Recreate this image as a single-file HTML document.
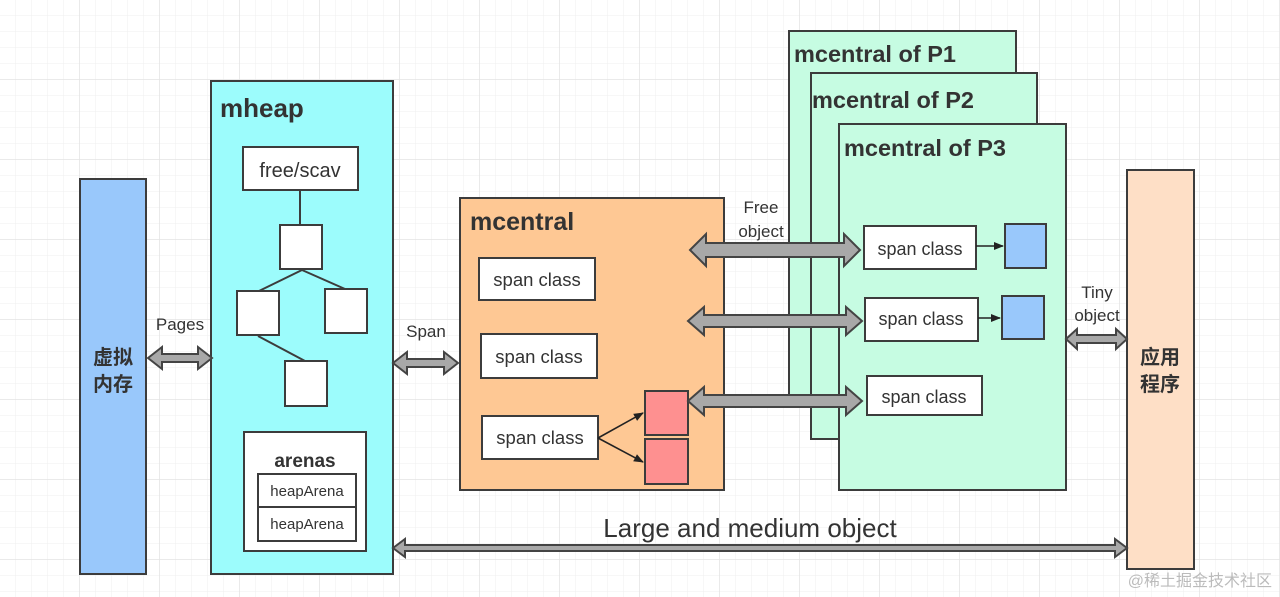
<!DOCTYPE html>
<html><head><meta charset="utf-8"><style>
html,body{margin:0;padding:0;background:#fff;}
svg{display:block;}
text{font-family:"Liberation Sans","Noto Sans CJK SC",sans-serif;fill:#333;}
.b{font-weight:bold;}
</style></head><body>
<svg width="1280" height="597" viewBox="0 0 1280 597" xmlns="http://www.w3.org/2000/svg">
<defs>
<pattern id="g" width="16" height="16" patternUnits="userSpaceOnUse">
<path d="M16 0V16M0 16H16" stroke="#efefef" stroke-width="1" fill="none"/>
</pattern>
<pattern id="G" width="80" height="80" patternUnits="userSpaceOnUse">
<path d="M80 0V80M0 80H80" stroke="#e3e3e3" stroke-width="1.5" fill="none"/>
</pattern>
<marker id="ah" markerWidth="10" markerHeight="10" refX="9" refY="5" orient="auto" markerUnits="userSpaceOnUse">
<path d="M0,1 L10,5 L0,9 z" fill="#222"/>
</marker>
</defs>
<rect width="1280" height="597" fill="url(#g)"/>
<rect width="1280" height="597" fill="url(#G)"/>

<g stroke="#3c3c3c" stroke-width="2">
<rect x="80" y="179" width="66" height="395" fill="#99c8fb"/>
<rect x="211" y="81" width="182" height="493" fill="#9cfcfc"/>
<rect x="243" y="147" width="115" height="43" fill="#fff"/>
<line x1="300" y1="190" x2="300" y2="225"/>
<line x1="302" y1="270" x2="259" y2="291"/>
<line x1="302" y1="270" x2="345" y2="289"/>
<line x1="258" y1="336" x2="305" y2="361"/>
<rect x="280" y="225" width="42" height="44" fill="#fff"/>
<rect x="237" y="291" width="42" height="44" fill="#fff"/>
<rect x="325" y="289" width="42" height="44" fill="#fff"/>
<rect x="285" y="361" width="42" height="45" fill="#fff"/>
<rect x="244" y="432" width="122" height="119" fill="#fff"/>
<rect x="258" y="474" width="98" height="33" fill="#fff"/>
<rect x="258" y="507" width="98" height="34" fill="#fff"/>
<rect x="460" y="198" width="264" height="292" fill="#fec894"/>
<rect x="479" y="258" width="116" height="42" fill="#fff"/>
<rect x="481" y="334" width="116" height="44" fill="#fff"/>
<rect x="482" y="416" width="116" height="43" fill="#fff"/>
<rect x="645" y="391" width="43" height="44" fill="#fe9090"/>
<rect x="645" y="439" width="43" height="45" fill="#fe9090"/>
<rect x="789" y="31" width="227" height="364" fill="#c6fce2"/>
<rect x="811" y="73" width="226" height="366" fill="#c6fce2"/>
<rect x="839" y="124" width="227" height="366" fill="#c6fce2"/>
<rect x="864" y="226" width="112" height="43" fill="#fff"/>
<rect x="865" y="298" width="113" height="43" fill="#fff"/>
<rect x="867" y="376" width="115" height="39" fill="#fff"/>
<rect x="1005" y="224" width="41" height="44" fill="#99c8fb"/>
<rect x="1002" y="296" width="42" height="43" fill="#99c8fb"/>
<rect x="1127" y="170" width="67" height="399" fill="#fedfc6"/>
</g>
<g stroke="#222" stroke-width="1.6">
<line x1="598" y1="438" x2="643" y2="413" marker-end="url(#ah)"/>
<line x1="598" y1="438" x2="643" y2="462" marker-end="url(#ah)"/>
<line x1="976" y1="246" x2="1003" y2="246" marker-end="url(#ah)"/>
<line x1="978" y1="318" x2="1000" y2="318" marker-end="url(#ah)"/>
</g>

<g fill="#a8a8a8" stroke="#444" stroke-width="2" stroke-linejoin="miter">
<polygon points="148,358 162,347 162,354 198,354 198,347 212,358 198,369 198,362 162,362 162,369"/>
<polygon points="393,363 407,352 407,359 444,359 444,352 458,363 444,374 444,367 407,367 407,374"/>
<polygon points="690,250 706,234 706,243 844,243 844,234 860,250 844,266 844,257 706,257 706,266"/>
<polygon points="688,321 704,307 704,315 846,315 846,307 862,321 846,335 846,327 704,327 704,335"/>
<polygon points="688,401 704,387 704,395 846,395 846,387 862,401 846,415 846,407 704,407 704,415"/>
<polygon points="1066,339 1077,329 1077,335 1116,335 1116,329 1127,339 1116,349 1116,343 1077,343 1077,349"/>
<polygon points="393,548 405,539 405,545 1115,545 1115,539 1127,548 1115,557 1115,551 405,551 405,557"/>
</g>

<text x="113" y="364" font-size="20" class="b" text-anchor="middle">虚拟</text>
<text x="113" y="391" font-size="20" class="b" text-anchor="middle">内存</text>
<text x="220" y="117" font-size="26" class="b">mheap</text>
<text x="300" y="177" font-size="20" text-anchor="middle">free/scav</text>
<text x="305" y="467" font-size="19" class="b" text-anchor="middle">arenas</text>
<text x="307" y="496" font-size="15" text-anchor="middle" fill="#444">heapArena</text>
<text x="307" y="529" font-size="15" text-anchor="middle" fill="#444">heapArena</text>
<text x="180" y="330" font-size="17" text-anchor="middle">Pages</text>
<text x="426" y="337" font-size="17" text-anchor="middle">Span</text>
<text x="470" y="230" font-size="25" class="b">mcentral</text>
<text x="537" y="286" font-size="18.5" text-anchor="middle">span class</text>
<text x="539" y="363" font-size="18.5" text-anchor="middle">span class</text>
<text x="540" y="444" font-size="18.5" text-anchor="middle">span class</text>
<text x="761" y="213" font-size="17" text-anchor="middle">Free</text>
<text x="761" y="237" font-size="17" text-anchor="middle">object</text>
<text x="794" y="62" font-size="23.5" class="b">mcentral of P1</text>
<text x="812" y="108" font-size="23.5" class="b">mcentral of P2</text>
<text x="844" y="156" font-size="23.5" class="b">mcentral of P3</text>
<text x="920" y="255" font-size="18" text-anchor="middle">span class</text>
<text x="921" y="325" font-size="18" text-anchor="middle">span class</text>
<text x="924" y="403" font-size="18" text-anchor="middle">span class</text>
<text x="1097" y="298" font-size="17" text-anchor="middle">Tiny</text>
<text x="1097" y="321" font-size="17" text-anchor="middle">object</text>
<text x="1160" y="364" font-size="20" class="b" text-anchor="middle">应用</text>
<text x="1160" y="391" font-size="20" class="b" text-anchor="middle">程序</text>
<text x="750" y="537" font-size="26" text-anchor="middle">Large and medium object</text>
<text x="1272" y="586" font-size="16" text-anchor="end" style="fill:#bbb">@稀土掘金技术社区</text>
</svg>
</body></html>
